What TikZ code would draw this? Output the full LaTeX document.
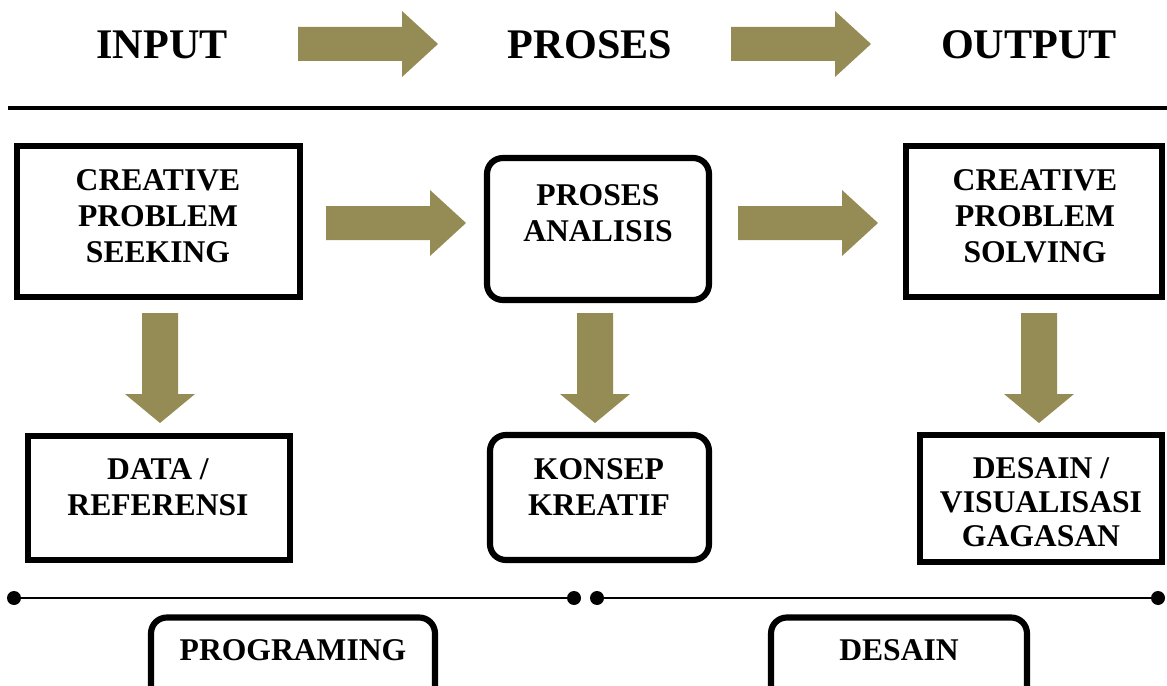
\documentclass[tikz,border=0pt]{standalone}
\usepackage{fontspec}
\setmainfont{Liberation Serif}
\usepackage{xcolor}
\definecolor{flowOlive}{HTML}{958B54}
\usepackage{tikz}

\tikzset{
  box/.style={draw, line width=3.5pt, inner sep=0pt},
  roundbox/.style={box, rounded corners=9pt},
  boxtext/.style={font=\bfseries\fontsize{18}{20.5}\selectfont, align=center, inner sep=0pt},
  headtext/.style={font=\bfseries\fontsize{24}{28}\selectfont, inner sep=0pt},
  dot/.style={circle, fill=black, inner sep=0pt, minimum size=0.28cm},
}

\begin{document}
\begin{tikzpicture}[x=0.02cm, y=-0.02cm]
  \clip (0,0) rectangle (1167,686);
  \fill[white] (0,0) rectangle (1167,686);
  % ------- heading row -------
  \node[headtext] (input) at (162,45) {INPUT};
  \node[headtext] (proses) at (590,45) {PROSES};
  \node[headtext] (output) at (1029,45) {OUTPUT};
  \draw[line width=2.6pt] (8,108) -- (1167,108);
  % ------- boxes -------
  \node[box, minimum width=5.66cm, minimum height=3.02cm] (seeking) at (158.5,221.5) {};
  \node[roundbox, minimum width=4.44cm, minimum height=2.84cm] (analisis) at (598,229) {};
  \node[box, minimum width=5.12cm, minimum height=3.02cm] (solving) at (1034,221.5) {};
  \node[box, minimum width=5.24cm, minimum height=2.48cm] (data) at (159,498) {};
  \node[roundbox, minimum width=4.38cm, minimum height=2.5cm] (konsep) at (599.5,497.5) {};
  \node[box, minimum width=4.84cm, minimum height=2.54cm] (desain) at (1041,498.5) {};
  \node[boxtext] at (158,216) {CREATIVE\\PROBLEM\\SEEKING};
  \node[boxtext] at (598,213) {PROSES\\ANALISIS};
  \node[boxtext] at (1035,216) {CREATIVE\\PROBLEM\\SOLVING};
  \node[boxtext] at (158,487) {DATA /\\REFERENSI};
  \node[boxtext] at (599,487) {KONSEP\\KREATIF};
  \node[boxtext, font=\bfseries\fontsize{18}{19.3}\selectfont] at (1041,502) {DESAIN /\\VISUALISASI\\GAGASAN};
  % ------- block arrows -------
  \foreach \x/\y in {298/44, 731/44, 326/223, 738/223} {
    \fill[flowOlive] (\x,\y) ++(0,-17) -- ++(104,0) -- ++(0,-16) -- ++(36,33)
      -- ++(-36,33) -- ++(0,-16) -- ++(-104,0) -- cycle;
  }
  \foreach \x in {160, 595, 1039} {
    \fill[flowOlive] (\x,313) ++(-18,0) -- ++(0,81) -- ++(-17,0) -- ++(35,29)
      -- ++(35,-29) -- ++(-17,0) -- ++(0,-81) -- cycle;
  }
  % ------- bottom timeline -------
  \node[dot] (progL) at (14,598) {};
  \node[dot] (progR) at (574,598) {};
  \node[dot] (desL) at (597,598) {};
  \node[dot] (desR) at (1158,598) {};
  \draw[line width=1.4pt] (progL) -- (progR);
  \draw[line width=1.4pt] (desL) -- (desR);
  \node[roundbox, minimum width=5.68cm, minimum height=2.1cm] (programing) at (293,670) {};
  \node[roundbox, minimum width=5.12cm, minimum height=2.1cm] (desainbox) at (899,670) {};
  \node[boxtext] at (293,650) {PROGRAMING};
  \node[boxtext] at (899,650) {DESAIN};
\end{tikzpicture}
\end{document}
